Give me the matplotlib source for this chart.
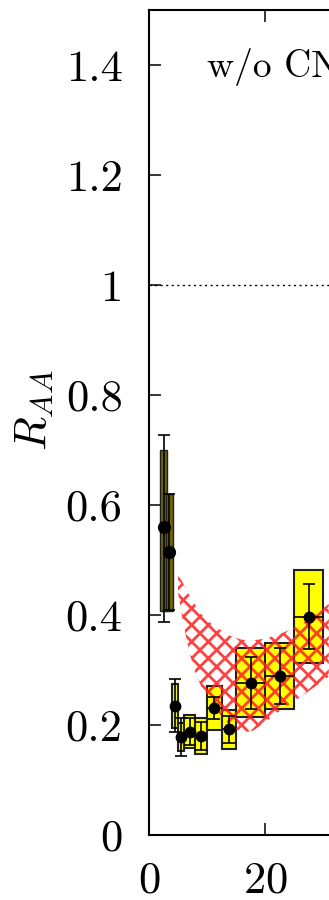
import numpy as np
import matplotlib
matplotlib.use('Agg')
import matplotlib.pyplot as plt

plt.rcParams['font.family'] = 'serif'
plt.rcParams['font.serif'] = ['cmr10']
plt.rcParams['mathtext.fontset'] = 'cm'
plt.rcParams['axes.formatter.use_mathtext'] = True
plt.rcParams['hatch.linewidth'] = 2.0

# low-pT points (dark boxes)
low_pt = np.array([2.5, 3.5])
low_lo = np.array([1.9, 2.95])
low_hi = np.array([3.05, 4.1])
low_raa = np.array([0.560, 0.515])
low_stat_dn = np.array([0.173, 0.105])
low_stat_up = np.array([0.167, 0.105])
low_sys_dn = np.array([0.153, 0.108])
low_sys_up = np.array([0.140, 0.105])

# main data points (yellow boxes)
pt = np.array([4.5, 5.5, 7.0, 9.0, 11.25, 13.75, 17.5, 22.5, 27.5])
pt_lo = np.array([4.0, 5.0, 6.0, 8.0, 10.0, 12.5, 15.0, 20.0, 25.0])
pt_hi = np.array([5.0, 6.0, 8.0, 10.0, 12.5, 15.0, 20.0, 25.0, 30.0])
raa = np.array([0.235, 0.178, 0.188, 0.180, 0.231, 0.192, 0.277, 0.289, 0.397])
stat = np.array([0.048, 0.035, 0.025, 0.025, 0.020, 0.025, 0.047, 0.051, 0.059])
sys = np.array([0.040, 0.025, 0.030, 0.032, 0.040, 0.036, 0.063, 0.060, 0.085])

# model band
band_pt = np.array([5, 6, 7, 8, 9, 10, 12, 14, 16, 18, 20, 22.5, 25, 28, 31])
band_lo = np.array([0.44, 0.38, 0.33, 0.295, 0.27, 0.255, 0.222, 0.198, 0.186,
                    0.19, 0.205, 0.225, 0.243, 0.265, 0.288])
band_hi = np.array([0.475, 0.455, 0.435, 0.418, 0.402, 0.39, 0.375, 0.362, 0.355,
                    0.354, 0.357, 0.365, 0.377, 0.395, 0.42])

yticks = [0, 0.2, 0.4, 0.6, 0.8, 1.0, 1.2, 1.4]
ytick_labels = ['0', '0.2', '0.4', '0.6', '0.8', '1', '1.2', '1.4']
xticks = [0, 20]

fig = plt.figure(figsize=(3.29, 9.0), dpi=100)
ax = fig.add_axes([149 / 329, 65 / 900, 232 / 329, 825 / 900])

ax.axhline(1.0, color='black', lw=1.0, ls=(0, (1.5, 2.5)), zorder=1)

# systematic boxes
ax.bar(low_lo, low_sys_dn + low_sys_up, bottom=low_raa - low_sys_dn,
       width=low_hi - low_lo, align='edge', color='#6e6400',
       edgecolor='#202020', lw=1.0, zorder=2)
ax.bar(pt_lo, 2 * sys, bottom=raa - sys, width=pt_hi - pt_lo, align='edge',
       color='#ffff00', edgecolor='#202020', lw=1.5, zorder=2)

# model band
ax.fill_between(band_pt, band_lo, band_hi, facecolor='none', edgecolor='#ff2020',
                hatch='xx', lw=0, alpha=0.85, zorder=3)

# statistical errors
ax.errorbar(low_pt, low_raa, yerr=[low_stat_dn, low_stat_up], fmt='o',
            color='black', ms=8.5, elinewidth=1.2, capsize=4.5, capthick=1.2, zorder=4)
ax.errorbar(pt, raa, yerr=stat, fmt='o', color='black', ms=7.5,
            elinewidth=1.2, capsize=4, capthick=1.2, zorder=4)
ax.hlines(raa, pt_lo, pt_hi, color='black', lw=1.2, zorder=4)

ax.text(10.0, 1.378, 'w/o CNM', fontsize=27, va='baseline', ha='left')

ax.set_xlim(0, 40)
ax.set_ylim(0, 1.5)
ax.set_xticks(xticks)
ax.set_yticks(yticks)
ax.set_yticklabels(ytick_labels)
ax.tick_params(direction='in', length=8.5, width=1.1, labelsize=32, pad=19,
               top=True, right=True)
for s in ax.spines.values():
    s.set_linewidth(1.5)

ax.set_ylabel(r'$R_{AA}$', fontsize=32)
ax.yaxis.set_label_coords(-0.405, 0.515)

fig.savefig('out.png', dpi=100)
